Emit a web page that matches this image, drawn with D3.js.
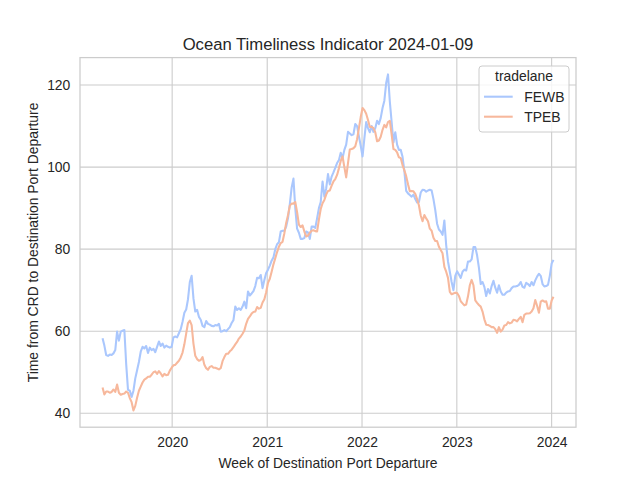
<!DOCTYPE html>
<html><head><meta charset="utf-8">
<script src="https://cdn.jsdelivr.net/npm/d3@7"></script>
<style>
html,body{margin:0;padding:0;background:#fff;}
text{font-family:"Liberation Sans",Arial,sans-serif;fill:#262626;}
</style></head>
<body><div id="chart"></div>
<script>
// ---- data ----
const titleText = "Ocean Timeliness Indicator 2024-01-09";
const xLabel = "Week of Destination Port Departure";
const yLabel = "Time from CRD to Destination Port Departure";
const legendTitle = "tradelane";
const seriesNames = ["FEWB", "TPEB"];
const firstWeek = "2019-04-08";
const yTicks = [40, 60, 80, 100, 120];
const xTickYears = ["2020", "2021", "2022", "2023", "2024"];

const fewb = [58.3,56.5,54.2,54.0,54.3,54.2,54.6,55.4,59.9,57.7,
 59.9,60.1,60.3,52.0,45.7,45.5,44.0,45.5,48.5,50.5,
 52.5,55.0,56.2,55.8,56.4,54.7,56.0,55.4,55.7,54.9,
 56.2,57.5,56.4,57.0,56.0,56.5,56.2,56.0,56.2,58.5,
 58.7,58.5,59.5,60.5,62.3,64.5,65.3,67.8,72.0,73.5,
 68.0,64.8,65.2,63.5,62.8,61.3,61.0,62.5,61.8,61.6,
 61.3,61.2,61.5,61.4,61.8,59.9,60.0,60.3,60.0,60.5,
 61.0,62.0,62.7,66.0,65.2,65.6,65.2,66.0,67.2,65.6,
 69.7,68.7,69.2,69.8,71.0,73.0,72.9,73.7,70.5,72.5,
 74.2,75.0,76.0,77.2,78.0,80.0,81.2,81.7,84.3,84.5,
 84.5,85.5,87.5,91.0,95.0,97.2,90.0,85.0,84.0,82.5,
 82.5,82.7,84.3,84.1,82.5,85.5,85.5,85.2,87.5,90.0,
 91.5,96.5,92.8,94.8,98.3,95.8,97.7,98.7,99.8,101.0,
 101.7,103.5,102.2,104.2,105.5,108.6,108.2,107.8,108.0,110.5,
 110.0,107.5,105.2,102.6,107.0,111.0,109.5,108.5,110.0,108.6,
 109.5,111.3,110.5,112.0,114.4,116.2,120.5,122.6,116.0,111.0,
 106.0,108.5,105.5,104.2,104.2,102.5,99.0,94.2,93.6,93.2,
 92.8,93.3,92.2,91.4,91.5,93.8,94.5,94.4,94.0,94.3,
 94.5,94.3,92.2,89.5,86.2,84.8,84.3,83.5,87.0,81.0,
 77.0,74.5,72.0,70.0,73.5,74.6,73.8,73.0,74.5,75.0,
 74.8,77.0,77.0,77.5,80.5,80.5,78.5,75.5,71.5,72.0,
 70.8,68.6,70.3,69.2,71.0,72.3,70.6,69.4,71.2,69.7,
 68.9,68.9,69.4,69.7,69.8,70.5,70.9,70.9,71.0,71.3,
 72.0,70.8,70.6,71.8,71.5,71.0,72.0,71.2,72.4,73.3,
 74.0,73.5,71.5,70.9,71.0,71.3,73.5,76.5,77.4];

const tpeb = [46.3,44.6,45.3,45.3,45.0,45.2,45.8,45.2,47.0,45.0,
 44.5,44.7,44.8,45.3,45.0,43.7,42.7,40.7,41.8,43.8,
 45.5,46.5,47.5,48.2,48.5,48.9,48.9,49.4,50.0,50.2,
 49.6,50.3,49.7,49.0,49.6,49.3,49.4,50.4,51.1,51.7,
 51.8,52.3,52.8,53.6,54.8,56.8,59.4,62.0,62.6,61.5,
 57.0,54.0,53.2,52.8,53.0,53.7,51.8,51.0,50.6,51.3,
 51.5,51.1,51.1,50.9,50.7,51.0,52.7,53.7,54.5,54.5,
 55.1,55.5,56.1,56.8,57.4,58.2,58.7,59.4,60.2,61.8,
 63.0,63.6,64.3,64.7,64.8,65.9,65.5,65.7,67.0,67.8,
 69.5,71.8,72.8,74.5,76.3,77.8,79.3,80.6,81.5,81.8,
 83.9,86.4,88.3,90.6,91.1,91.1,91.5,89.0,86.0,85.4,
 85.8,84.3,83.1,83.3,84.0,84.5,84.6,84.4,84.3,87.2,
 89.8,91.2,92.0,93.3,94.2,94.3,95.5,96.5,97.1,98.1,
 99.7,101.5,102.6,100.0,97.5,101.0,104.3,104.4,104.6,105.1,
 106.8,109.5,112.2,114.4,113.9,113.0,111.5,109.8,109.8,109.5,
 108.5,106.3,106.5,107.4,109.1,110.3,109.7,111.0,111.3,108.0,
 104.4,104.2,103.6,102.4,102.2,100.5,99.2,97.8,95.8,94.1,
 94.2,94.1,93.5,92.2,90.7,88.2,86.8,88.3,87.5,86.8,
 85.0,84.5,82.8,82.0,82.0,80.6,79.8,79.0,75.7,74.5,
 73.0,69.6,69.0,69.2,69.4,69.3,68.6,67.3,66.8,66.3,
 66.5,68.5,71.2,72.5,71.2,67.5,66.9,66.4,66.0,64.8,
 62.9,61.6,61.5,61.3,61.0,61.0,60.5,59.6,61.0,59.9,
 60.4,61.4,61.5,62.2,61.9,62.1,62.8,62.7,62.4,63.0,
 63.5,62.2,64.0,64.3,64.3,64.4,64.8,65.6,67.6,66.2,
 64.5,67.2,67.5,67.2,67.3,65.5,65.5,67.5,68.4];

const colors = ["#aac7fd", "#f7b89c"];

// ---- layout ----
const W = 640, H = 480;
const m = {left: 80, right: 576, top: 57.6, bottom: 427.2};

const parse = d3.utcParse("%Y-%m-%d");
const start = parse(firstWeek);
const dates = fewb.map((_, i) => d3.utcDay.offset(start, 7 * i));
const series = [fewb, tpeb];

const xExt = d3.extent(dates);
const xPad = (xExt[1] - xExt[0]) * 0.05;
const x = d3.scaleUtc()
  .domain([new Date(+xExt[0] - xPad), new Date(+xExt[1] + xPad)])
  .range([m.left, m.right]);

const allV = fewb.concat(tpeb);
const yMin = d3.min(allV), yMax = d3.max(allV);
const yPad = (yMax - yMin) * 0.05;
const y = d3.scaleLinear().domain([yMin - yPad, yMax + yPad]).range([m.bottom, m.top]);

const svg = d3.select("#chart").append("svg").attr("width", W).attr("height", H);
svg.append("rect").attr("width", W).attr("height", H).attr("fill", "#fff");

const xTickDates = xTickYears.map(s => d3.utcParse("%Y")(s));

// grid
const grid = svg.append("g");
grid.selectAll("line.h").data(yTicks).join("line")
  .attr("x1", m.left).attr("x2", m.right)
  .attr("y1", d => y(d)).attr("y2", d => y(d))
  .attr("stroke", "#cccccc").attr("stroke-width", 1.1);
grid.selectAll("line.v").data(xTickDates).join("line")
  .attr("y1", m.top).attr("y2", m.bottom)
  .attr("x1", d => x(d)).attr("x2", d => x(d))
  .attr("stroke", "#cccccc").attr("stroke-width", 1.1);

// axes (labels only, no tick marks)
const xAxis = d3.axisBottom(x).tickValues(xTickDates).tickFormat(d3.utcFormat("%Y")).tickSize(0).tickPadding(9.5);
const gx = svg.append("g").attr("transform", `translate(0,${m.bottom})`).call(xAxis);
gx.select(".domain").remove();
gx.selectAll("text").attr("font-size", "13.9px").attr("fill", "#262626")
  .attr("font-family", "Liberation Sans, Arial, sans-serif");

const yAxis = d3.axisLeft(y).tickValues(yTicks).tickSize(0).tickPadding(9.7);
const gy = svg.append("g").attr("transform", `translate(${m.left},0)`).call(yAxis);
gy.select(".domain").remove();
gy.selectAll("text").attr("font-size", "13.9px").attr("fill", "#262626")
  .attr("font-family", "Liberation Sans, Arial, sans-serif");

// lines
const line = d3.line().x((d, i) => x(dates[i])).y(d => y(d));
svg.append("g").selectAll("path").data(series).join("path")
  .attr("d", d => line(d))
  .attr("fill", "none")
  .attr("stroke", (d, i) => colors[i])
  .attr("stroke-width", 2.08)
  .attr("stroke-linejoin", "round")
  .attr("stroke-linecap", "butt");

// spines
svg.append("rect").attr("x", m.left).attr("y", m.top)
  .attr("width", m.right - m.left).attr("height", m.bottom - m.top)
  .attr("fill", "none").attr("stroke", "#cccccc").attr("stroke-width", 1.25);

// title and labels
svg.append("text").attr("x", (m.left + m.right) / 2).attr("y", 49.5)
  .attr("text-anchor", "middle").attr("font-size", "16.67px").text(titleText);
svg.append("text").attr("x", (m.left + m.right) / 2).attr("y", 468)
  .attr("text-anchor", "middle").attr("font-size", "13.9px").text(xLabel);
svg.append("text").attr("transform", `translate(38,${(m.top + m.bottom) / 2}) rotate(-90)`)
  .attr("text-anchor", "middle").attr("font-size", "13.9px").text(yLabel);

// legend
const lg = svg.append("g");
lg.append("rect").attr("x", 479).attr("y", 66).attr("width", 90).attr("height", 66)
  .attr("rx", 3).attr("ry", 3)
  .attr("fill", "#fff").attr("fill-opacity", 0.8)
  .attr("stroke", "#cccccc").attr("stroke-width", 1);
lg.append("text").attr("x", 524).attr("y", 81).attr("text-anchor", "middle")
  .attr("font-size", "13.9px").text(legendTitle);
seriesNames.forEach((name, i) => {
  const ly = 96.7 + i * 20;
  lg.append("line").attr("x1", 484).attr("x2", 512.7).attr("y1", ly).attr("y2", ly)
    .attr("stroke", colors[i]).attr("stroke-width", 2.08);
  lg.append("text").attr("x", 524.3).attr("y", ly + 4.9)
    .attr("font-size", "13.9px").text(name);
});
</script>
</body></html>
